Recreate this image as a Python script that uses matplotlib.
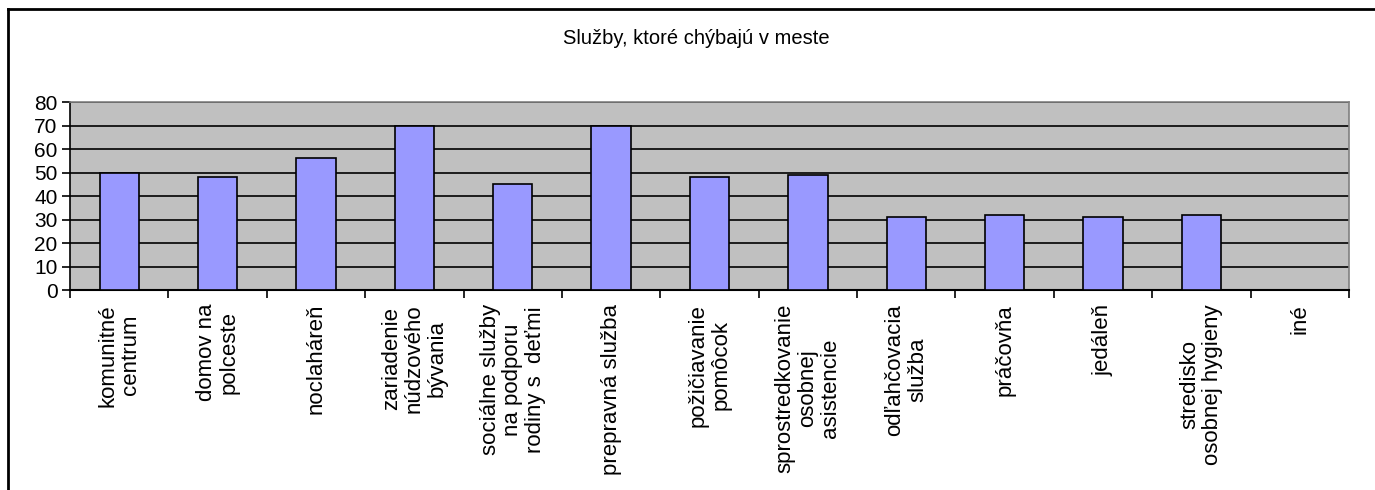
"""Bar chart: missing services in the town
"""

import numpy as np
import matplotlib.pyplot as plt
from matplotlib.lines import Line2D

plt.rcParams['font.family'] = ['Liberation Sans', 'DejaVu Sans']

categories = [
    'komunitné\ncentrum',
    'domov na\npolceste',
    'noclaháreň',
    'zariadenie\nnúdzového\nbývania',
    'sociálne služby\nna podporu\nrodiny s  deťmi',
    'prepravná služba',
    'požičiavanie\npomôcok',
    'sprostredkovanie\nosobnej\nasistencie',
    'odľahčovacia\nslužba',
    'práčovňa',
    'jedáleň',
    'stredisko\nosobnej hygieny',
    'iné',
]
values = [50, 48, 56, 70, 45, 70, 48, 49, 31, 32, 31, 32, 0]
y_ticks = [0, 10, 20, 30, 40, 50, 60, 70, 80]

W, H = 1375, 490
fig = plt.figure(figsize=(W / 100, H / 100), dpi=100)
ax = fig.add_axes([70 / W, 1 - 290 / H, (1349 - 70) / W, (290 - 102) / H])
ax.set_facecolor('#C0C0C0')

x = np.arange(len(categories))
ax.bar(x, values, width=0.4, color='#9999FF', edgecolor='black', linewidth=1.2, zorder=3)

ax.set_xlim(-0.5, len(categories) - 0.5)
ax.set_ylim(0, 80)
ax.set_yticks(y_ticks)
ax.yaxis.grid(True, color='black', linewidth=1.2, zorder=1)
ax.set_axisbelow(True)

# ticks between categories, labels at the centres
ax.set_xticks(np.arange(len(categories) + 1) - 0.5)
ax.set_xticklabels([])
ax.set_xticks(x, minor=True)
ax.set_xticklabels(categories, minor=True, rotation=90, va='top', ha='center',
                   multialignment='center', fontsize=16, linespacing=1.1)
ax.tick_params(axis='x', which='major', length=6, width=1.2, direction='out')
ax.tick_params(axis='x', which='minor', length=0, pad=10)
ax.tick_params(axis='y', length=6, width=1.2, labelsize=15, pad=3)

ax.spines['left'].set_linewidth(1.2)
ax.spines['bottom'].set_linewidth(1.5)
for side in ('top', 'right'):
    ax.spines[side].set_color('#808080')
    ax.spines[side].set_linewidth(1.2)

fig.text(696 / W, 1 - 38 / H, 'Služby, ktoré chýbajú v meste',
         ha='center', va='center', fontsize=14.5)

# outer chart frame (left and top edges visible)
fig.add_artist(Line2D([7.5 / W, 7.5 / W], [1 - 9 / H, 0], color='black', linewidth=2))
fig.add_artist(Line2D([7.5 / W, 1], [1 - 9 / H, 1 - 9 / H], color='black', linewidth=2))

fig.savefig('out.png', dpi=100)
